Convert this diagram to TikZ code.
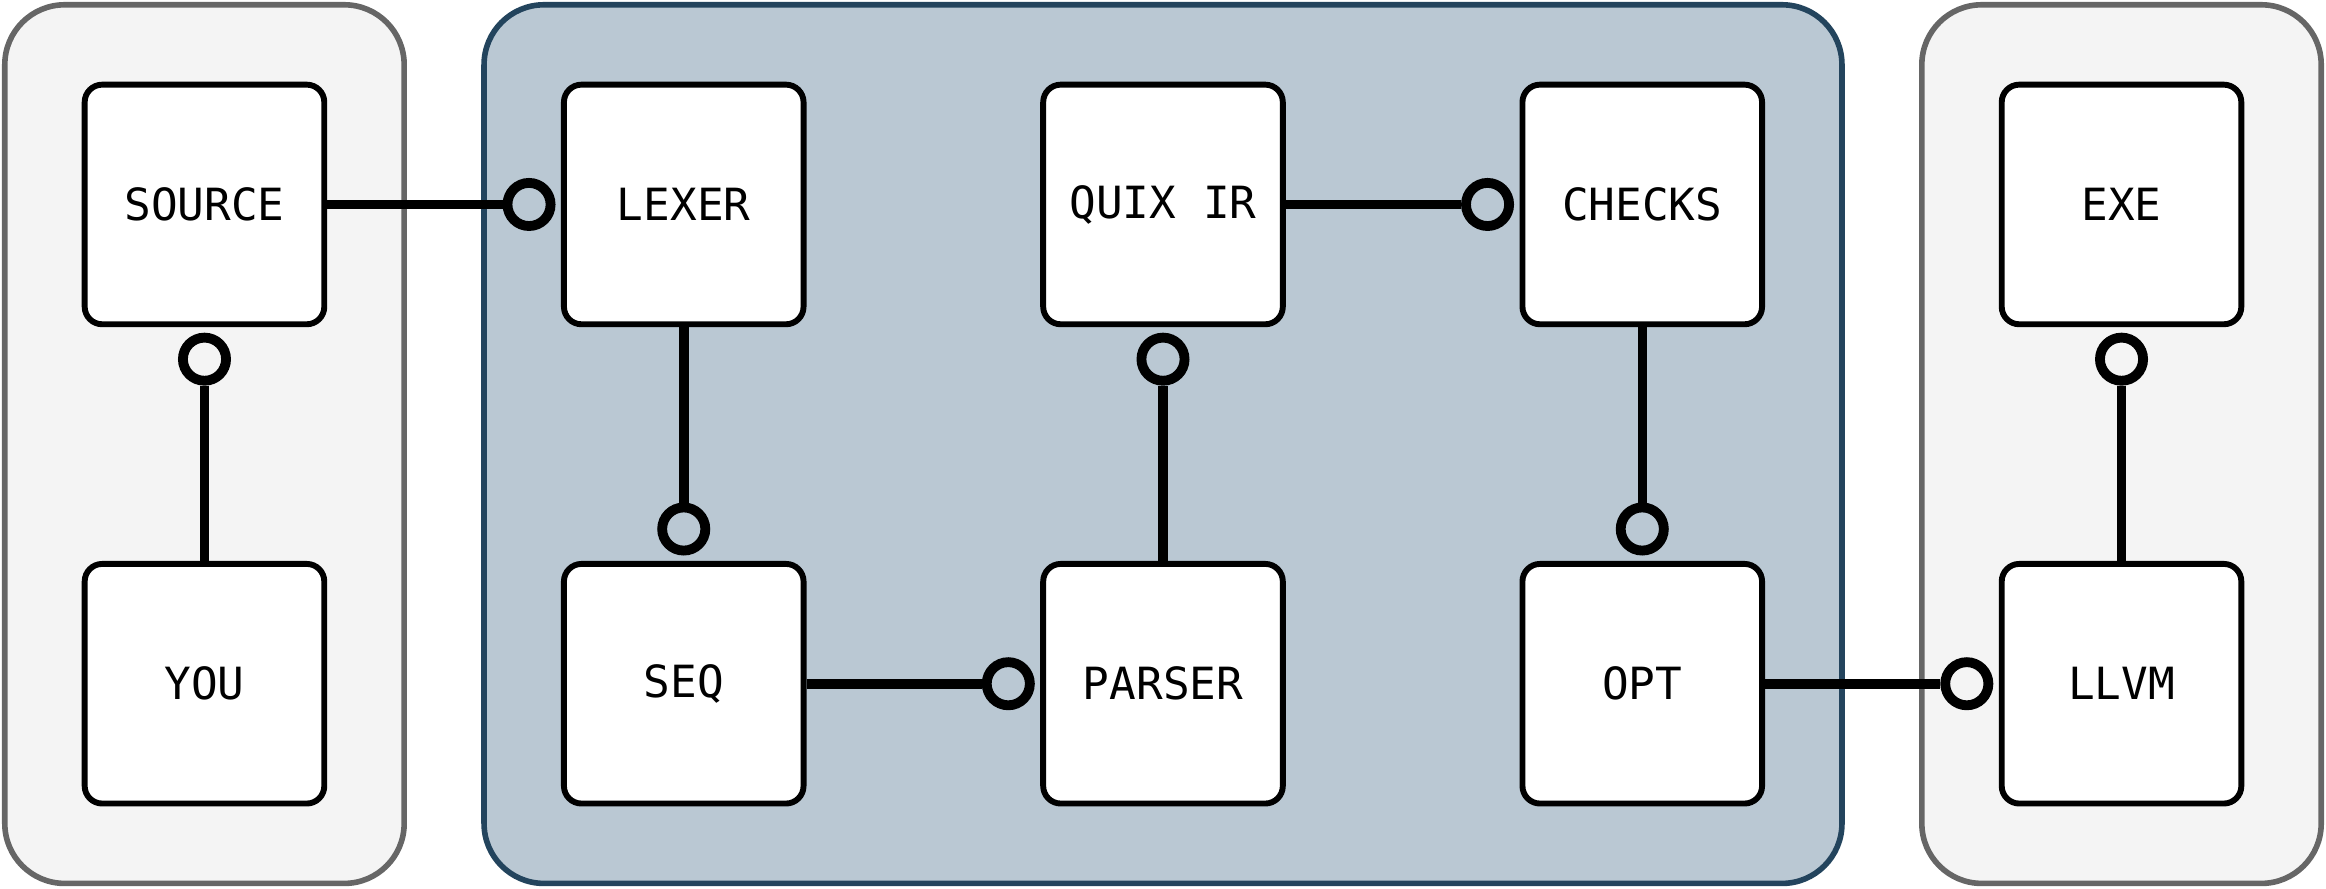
\documentclass[tikz,border=0pt]{standalone}
\usepackage{fontspec}
\newfontfamily\boxfont{DejaVu Sans Mono}
\definecolor{grpfill}{HTML}{F4F4F4}
\definecolor{grpline}{HTML}{666666}
\definecolor{midfill}{HTML}{BAC8D3}
\definecolor{midline}{HTML}{23445D}
\tikzset{
  grp/.style={draw=grpline, fill=grpfill, line width=2pt, rounded corners=0.75cm},
  midgrp/.style={draw=midline, fill=midfill, line width=2pt, rounded corners=0.75cm},
  unit/.style={draw=black, fill=white, line width=2.1pt, rounded corners=0.22cm,
    minimum width=3cm, minimum height=3cm, inner sep=0pt, font=\boxfont\fontsize{15.8}{18}\selectfont},
  ring/.style={circle, draw=black, fill=none, line width=3.5pt, minimum size=0.54cm, inner sep=0pt},
  link/.style={line width=3.4pt, draw=black}
}
\begin{document}
\begin{tikzpicture}
\useasboundingbox (0,0) rectangle (29.12,11.12);
\def\e{0.06}
\draw[grp] (\e,\e) rectangle (\e+5,\e+11);
\draw[midgrp] (\e+6,\e) rectangle (\e+23,\e+11);
\draw[grp] (\e+24,\e) rectangle (\e+29,\e+11);
\node[unit] (source) at (\e+2.5,\e+8.5) {SOURCE};
\node[unit] (you)    at (\e+2.5,\e+2.5) {YOU};
\node[unit] (lexer)  at (\e+8.5,\e+8.5) {LEXER};
\node[unit] (seq)    at (\e+8.5,\e+2.5) {SEQ};
\node[unit] (quix)   at (\e+14.5,\e+8.5) {QUIX IR};
\node[unit] (parser) at (\e+14.5,\e+2.5) {PARSER};
\node[unit] (checks) at (\e+20.5,\e+8.5) {CHECKS};
\node[unit] (opt)    at (\e+20.5,\e+2.5) {OPT};
\node[unit] (exe)    at (\e+26.5,\e+8.5) {EXE};
\node[unit] (llvm)   at (\e+26.5,\e+2.5) {LLVM};
% rings
\node[ring] (r1) at ([yshift=-0.4cm]source.south) {};
\node[ring] (r2) at ([xshift=-0.4cm]lexer.west) {};
\node[ring] (r3) at ([yshift=0.4cm]seq.north) {};
\node[ring] (r4) at ([xshift=-0.4cm]parser.west) {};
\node[ring] (r5) at ([yshift=-0.4cm]quix.south) {};
\node[ring] (r6) at ([xshift=-0.4cm]checks.west) {};
\node[ring] (r7) at ([yshift=0.4cm]opt.north) {};
\node[ring] (r8) at ([xshift=-0.4cm]llvm.west) {};
\node[ring] (r9) at ([yshift=-0.4cm]exe.south) {};
\draw[link] (you.north) -- (r1);
\draw[link] (source.east) -- (r2);
\draw[link] (lexer.south) -- (r3);
\draw[link] (seq.east) -- (r4);
\draw[link] (parser.north) -- (r5);
\draw[link] (quix.east) -- (r6);
\draw[link] (checks.south) -- (r7);
\draw[link] (opt.east) -- (r8);
\draw[link] (llvm.north) -- (r9);
\end{tikzpicture}
\end{document}
